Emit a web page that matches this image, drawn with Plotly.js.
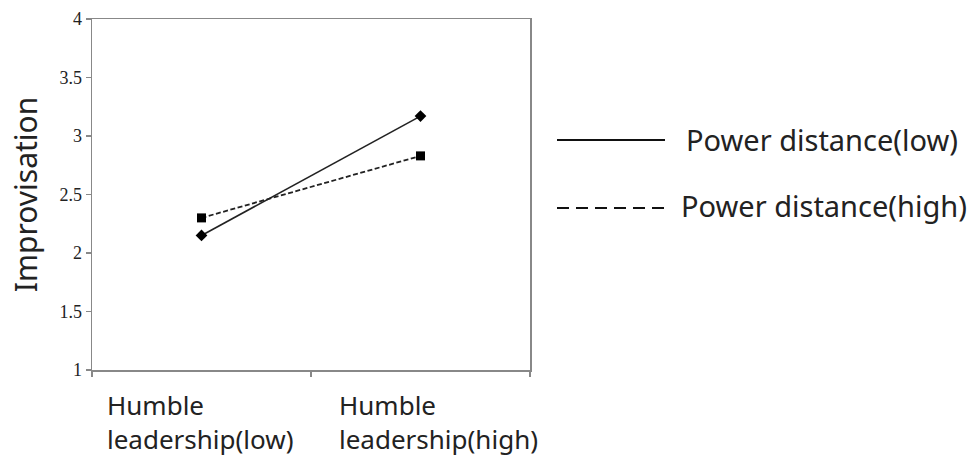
<!DOCTYPE html>
<html><head><meta charset="utf-8">
<script src="https://cdn.plot.ly/plotly-3.0.1.min.js"></script>
<style>body{margin:0;background:#fff}#chart{width:971px;height:458px}</style>
</head><body><div id="chart"></div>
<script>
const categories = ["Humble leadership(low)", "Humble leadership(high)"];
const labelLine1 = ["Humble", "Humble"];
const labelLine2 = ["leadership(low)", "leadership(high)"];
const seriesNames = ["Power distance(low)", "Power distance(high)"];
const pdLow = [2.15, 3.17];
const pdHigh = [2.30, 2.83];
const yTickVals = [1, 1.5, 2, 2.5, 3, 3.5, 4];
const yTickText = ["1", "1.5", "2", "2.5", "3", "3.5", "4"];

const sans = "Noto Sans, sans-serif";
const traces = [
  {x: categories, y: pdLow, name: seriesNames[0], type: "scatter", mode: "lines+markers",
   line: {color: "#222", width: 1.6}, marker: {symbol: "diamond", size: 9, color: "#000"}, showlegend: false},
  {x: categories, y: pdHigh, name: seriesNames[1], type: "scatter", mode: "lines+markers",
   line: {color: "#222", width: 1.8, dash: "5px,2.5px"}, marker: {symbol: "square", size: 9, color: "#000"}, showlegend: false}
];

const py = v => 1 - (v - 19) / 351;
const px = v => (v - 92) / 438;
const legendY = [140, 208];
const dashes = ["solid", "12px,7px"];
const shapes = seriesNames.map((n, i) => ({
  type: "line", xref: "paper", yref: "paper",
  x0: px(557), x1: px(665), y0: py(legendY[i]), y1: py(legendY[i]),
  line: {color: "#111", width: 2, dash: dashes[i]}
}));
const legendX = [684, 679];
const legendTextY = [139, 206];
const annotations = seriesNames.map((n, i) => ({
  text: n, xref: "paper", yref: "paper", showarrow: false,
  x: px(legendX[i]), y: py(legendTextY[i]),
  xanchor: "left", yanchor: "middle", font: {family: sans, size: 29, color: "#222"}
}));
const labelShift = [-97, -84];
categories.forEach((c, i) => {
  annotations.push({
    text: labelLine1[i] + "<br>" + labelLine2[i], x: c, xref: "x", yref: "paper", y: py(422),
    yanchor: "middle", xanchor: "left", align: "left",
    showarrow: false, xshift: labelShift[i], font: {family: sans, size: 26, color: "#222"}
  });
});

const layout = {
  width: 971, height: 458,
  margin: {l: 92, r: 441, t: 19, b: 88},
  paper_bgcolor: "#fff", plot_bgcolor: "#fff",
  xaxis: {type: "category", range: [-0.5, 1.5], showticklabels: false, ticks: "outside",
          tickson: "boundaries", ticklen: 5, tickcolor: "#888", tickwidth: 1.2, showline: true, linecolor: "#888",
          linewidth: 1.5, mirror: true, showgrid: false, zeroline: false},
  yaxis: {range: [1, 4], tickvals: yTickVals, ticktext: yTickText, ticks: "outside", ticklen: 5,
          tickcolor: "#888", tickwidth: 1.2, showline: true, linecolor: "#888", linewidth: 1.5, mirror: true,
          showgrid: false, zeroline: false,
          tickfont: {family: "Liberation Serif, serif", size: 18, color: "#222"},
          title: {text: "Improvisation", font: {family: sans, size: 30, color: "#222"}, standoff: 13}},
  shapes: shapes, annotations: annotations
};
Plotly.newPlot("chart", traces, layout, {displayModeBar: false, staticPlot: true});
</script></body></html>
